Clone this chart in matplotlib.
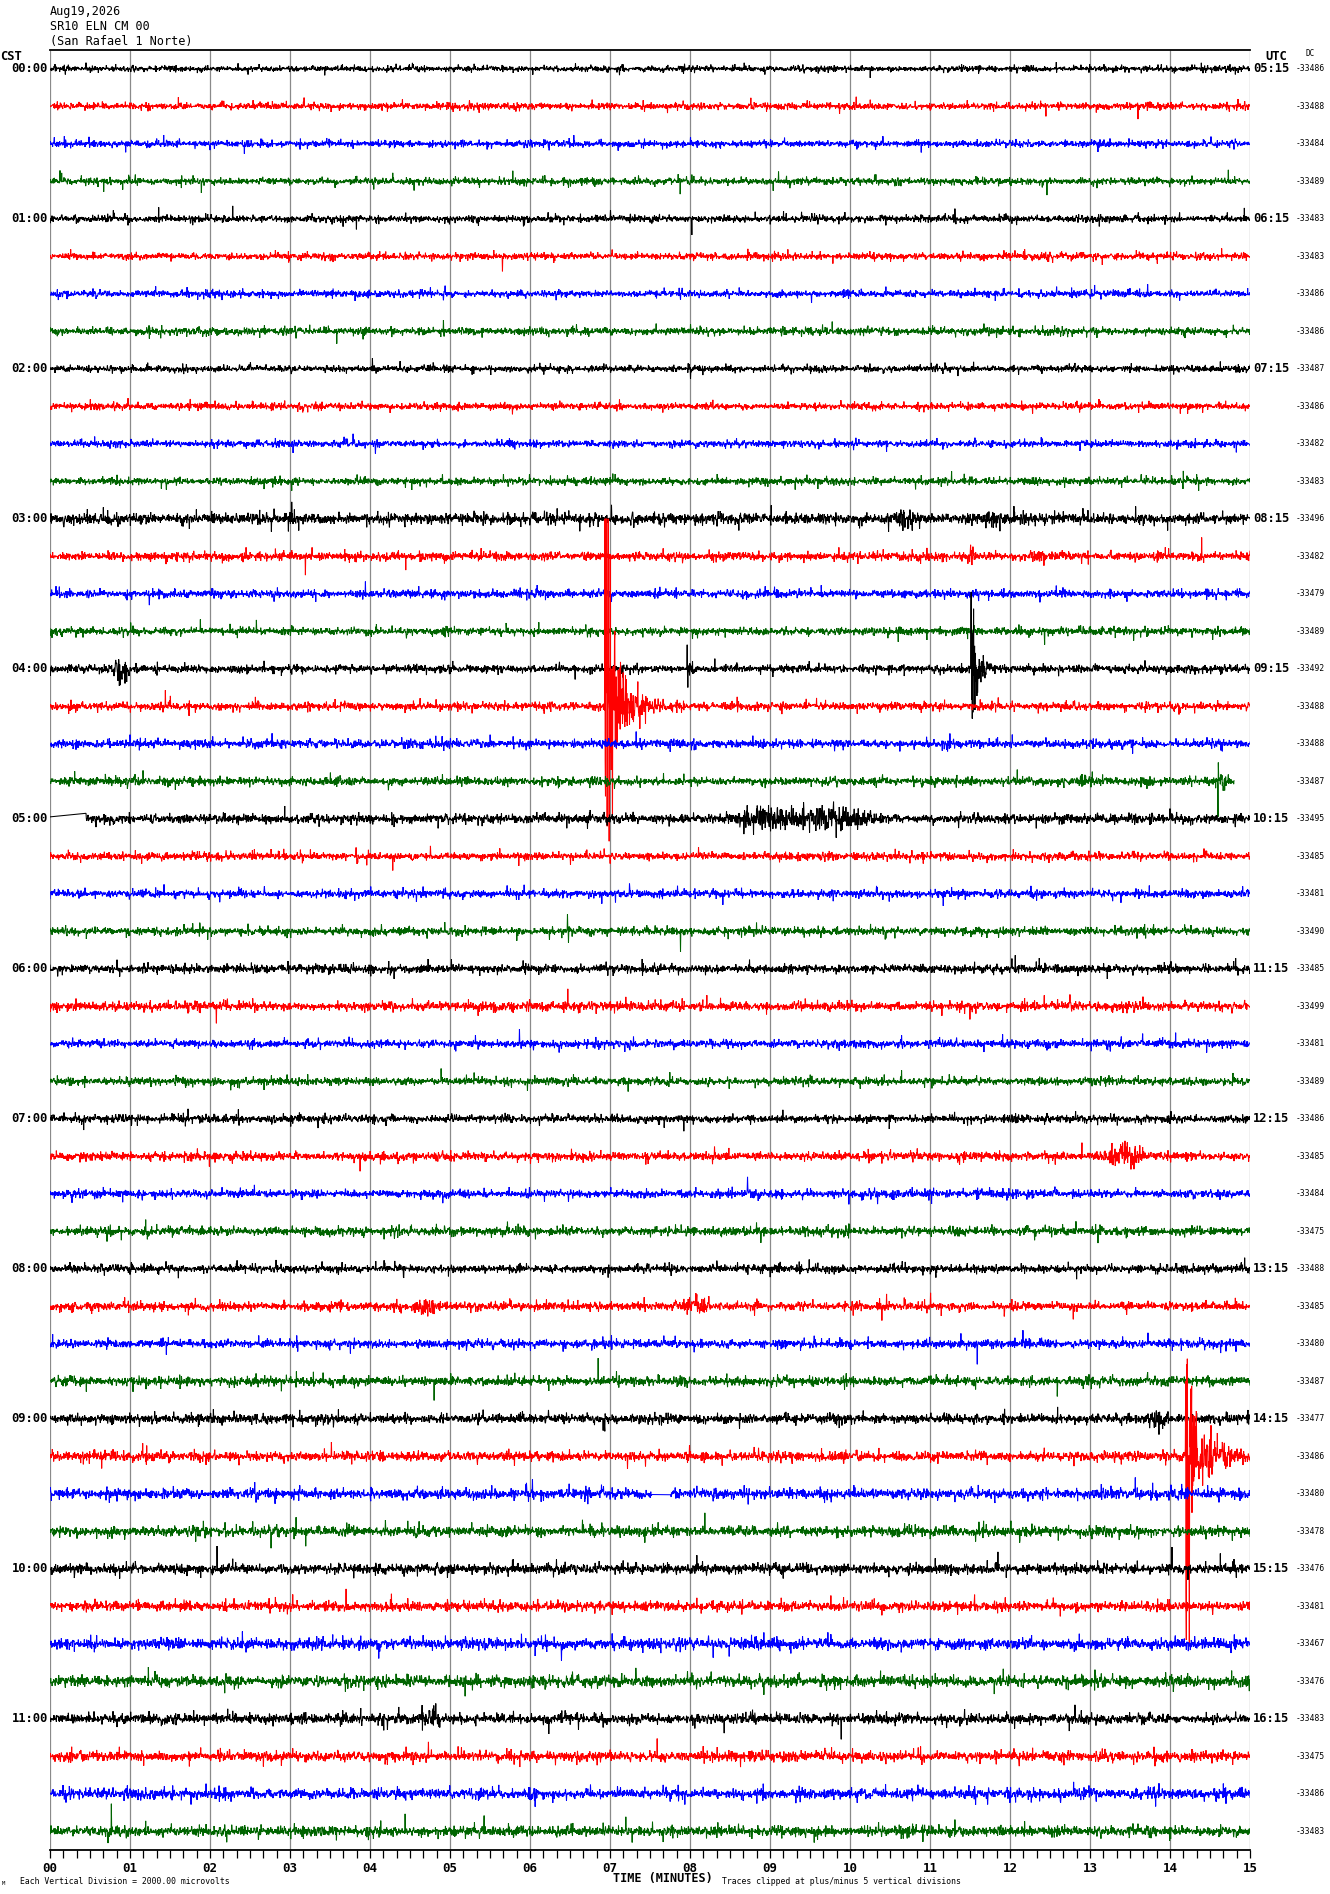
import numpy as np
import matplotlib
matplotlib.use("Agg")
import matplotlib.pyplot as plt
from matplotlib.transforms import blended_transform_factory

# ---------------- data read from the helicorder ----------------
HEADER_DATE = "Aug19,2026"
HEADER_STATION = "SR10 ELN CM 00"
HEADER_SITE = "(San Rafael 1 Norte)"

CST_LABELS = ["00:00", "01:00", "02:00", "03:00", "04:00", "05:00",
              "06:00", "07:00", "08:00", "09:00", "10:00", "11:00"]
UTC_LABELS = ["05:15", "06:15", "07:15", "08:15", "09:15", "10:15",
              "11:15", "12:15", "13:15", "14:15", "15:15", "16:15"]
MINUTE_LABELS = ["00", "01", "02", "03", "04", "05", "06", "07",
                 "08", "09", "10", "11", "12", "13", "14", "15"]

DC_VALUES = [-33486, -33488, -33484, -33489, -33483, -33483, -33486, -33486,
             -33487, -33486, -33482, -33483, -33496, -33482, -33479, -33489,
             -33492, -33488, -33488, -33487, -33495, -33485, -33481, -33490,
             -33485, -33499, -33481, -33489, -33486, -33485, -33484, -33475,
             -33488, -33485, -33480, -33487, -33477, -33486, -33480, -33478,
             -33476, -33481, -33467, -33476, -33483, -33475, -33486, -33483]

TRACE_COLORS = ["black", "#ff0000", "#0000ff", "#006400"]

# background noise level of each 15-minute line (vertical divisions)
NOISE_LEVEL = [0.036, 0.042, 0.042, 0.042, 0.042, 0.042, 0.042, 0.046,
               0.042, 0.042, 0.042, 0.046, 0.066, 0.052, 0.048, 0.048,
               0.048, 0.048, 0.052, 0.052, 0.056, 0.048, 0.048, 0.048,
               0.052, 0.056, 0.048, 0.048, 0.048, 0.052, 0.048, 0.052,
               0.048, 0.052, 0.052, 0.058, 0.058, 0.058, 0.062, 0.062,
               0.062, 0.058, 0.068, 0.068, 0.062, 0.062, 0.062, 0.062]

# signals: line, kind, start (min), end (min), amplitude (div), decay (min)
EV_TRACE = [12, 12, 12, 13, 13, 15, 16, 16, 16, 16, 16,
            17, 17, 19, 19, 19, 20, 20, 23, 29, 30, 31, 32,
            33, 33, 36, 37, 37, 38, 44, 46]
EV_KIND = ["quake", "burst", "burst", "burst", "burst", "burst", "burst", "burst", "quake", "quake", "quake",
           "quake", "quake", "burst", "burst", "burst", "burst", "burst", "burst", "burst", "quake", "burst", "burst",
           "burst", "burst", "burst", "quake", "quake", "burst", "burst", "burst"]
EV_START = [3.00, 10.35, 11.60, 11.40, 12.15, 4.00, 0.72, 2.35, 7.96, 11.51, 11.51,
            6.93, 6.93, 12.80, 13.60, 14.50, 8.35, 8.90, 9.55, 12.95, 8.72, 1.10, 3.75,
            4.50, 7.75, 13.55, 14.19, 14.19, 14.05, 4.55, 5.90]
EV_END = [3.10, 11.05, 12.00, 11.65, 12.55, 4.15, 1.06, 2.50, 8.10, 11.95, 11.95,
          7.90, 7.90, 13.00, 13.85, 14.80, 9.55, 10.75, 9.75, 13.95, 8.85, 1.30, 3.95,
          4.90, 8.40, 14.10, 15.00, 15.00, 14.25, 5.00, 6.15]
EV_AMP = [0.12, 0.14, 0.12, 0.10, 0.10, 0.08, 0.22, 0.08, 0.22, 0.60, 0.22,
          1.80, 0.45, 0.08, 0.08, 0.12, 0.17, 0.17, 0.07, 0.16, 0.15, 0.08, 0.07,
          0.14, 0.12, 0.10, 1.10, 0.38, 0.12, 0.14, 0.08]
EV_TAU = [0.04, 0, 0, 0, 0, 0, 0, 0, 0.05, 0.08, 0.15,
          0.12, 0.35, 0, 0, 0, 0, 0, 0, 0, 0.05, 0, 0,
          0, 0, 0, 0.12, 0.40, 0, 0, 0]

# single large excursions: line, time (min), value (div, + is up)
SPIKE_TRACE = [12, 16, 16, 16, 16, 16, 16,
               17, 17, 17, 17, 17, 17, 17, 17, 17,
               19, 19, 23, 23, 23, 30, 37, 37, 37, 37, 37, 37, 40, 43]
SPIKE_TIME = [3.02, 7.965, 7.975, 11.515, 11.53, 11.545, 11.56,
              6.935, 6.945, 6.955, 6.965, 6.975, 6.99, 7.00, 7.03, 7.06,
              14.60, 14.605, 6.47, 6.48, 7.88, 8.72, 14.195, 14.205, 14.215, 14.225, 14.24, 14.26, 11.85, 5.19]
SPIKE_VALUE = [0.45, 0.64, -0.5, 2.05, -1.33, 1.6, -1.1,
               5.8, -2.4, 5.8, -3.2, 5.8, -3.6, 4.0, -3.0, 2.0,
               -0.95, 0.5, 0.45, -0.3, -0.55, 0.45, 2.0, -4.9, 2.6, -3.0, -5.5, 1.8, 0.45, -0.4]

# data gaps drawn as straight lines: line, start, end (min)
GAP_TRACE = [20, 38]
GAP_START = [0.0, 7.53]
GAP_END = [0.45, 7.76]
# last recorded minute of a line
TRACE_END = {19: 14.80}

CLIP = 5.0
N_SAMPLES = 3600

# ---------------- figure ----------------
W, H = 1330, 1894
fig = plt.figure(figsize=(W / 100, H / 100), dpi=100)
ax_left, ax_right, ax_top, ax_bot = 50, 1250, 50, 1850
ax = fig.add_axes([ax_left / W, 1 - ax_bot / H, (ax_right - ax_left) / W, (ax_bot - ax_top) / H])
n_tr = len(DC_VALUES)
ax.set_xlim(0, 15)
ax.set_ylim(n_tr - 0.5, -0.5)

# texture of the seismic noise (fixed seed); levels/events above come from the picture
rng = np.random.default_rng(1908)
t = np.linspace(0, 15, N_SAMPLES)
for i in range(n_tr):
    y = NOISE_LEVEL[i] * rng.standard_t(6, N_SAMPLES) / 1.15
    env = np.zeros_like(t)
    for k in range(len(EV_TRACE)):
        if EV_TRACE[k] != i:
            continue
        t0, t1, a = EV_START[k], EV_END[k], EV_AMP[k]
        m = (t >= t0) & (t <= t1)
        if EV_KIND[k] == "quake":
            env[m] += a * np.exp(-(t[m] - t0) / EV_TAU[k])
        else:
            env[m] += a * np.sin(np.pi * (t[m] - t0) / (t1 - t0)) ** 2
    y = y + env * rng.standard_normal(N_SAMPLES)
    for k in range(len(SPIKE_TRACE)):
        if SPIKE_TRACE[k] == i:
            y[np.argmin(np.abs(t - SPIKE_TIME[k]))] = SPIKE_VALUE[k]
    for k in range(len(GAP_TRACE)):
        if GAP_TRACE[k] == i:
            m = (t >= GAP_START[k]) & (t < GAP_END[k])
            if GAP_START[k] <= 0:
                y[0] = 0.05
                m[0] = False
            y[m] = np.interp(t[m], t[~m], y[~m])
    y = np.clip(y, -CLIP, CLIP)
    if i in TRACE_END:
        y[t > TRACE_END[i]] = np.nan
    ax.plot(t, i - y, color=TRACE_COLORS[i % 4], lw=0.75, zorder=3, solid_joinstyle="miter")

# minute grid
ax.vlines(np.arange(0, 16), -0.5, n_tr - 0.5, colors="#8a8a8a", lw=0.9, zorder=1)

for s in ["left", "right"]:
    ax.spines[s].set_visible(False)
ax.spines["top"].set_linewidth(1.3)
ax.spines["bottom"].set_linewidth(1.3)
ax.set_yticks([])
ax.set_xticks(np.arange(16))
ax.set_xticklabels(MINUTE_LABELS, fontfamily="DejaVu Sans Mono", fontweight="bold", fontsize=9)
ax.set_xticks(np.arange(0, 15.01, 1 / 6), minor=True)
ax.tick_params(axis="x", which="both", direction="out", length=5.8, width=0.9, pad=2.5)

mono = "DejaVu Sans Mono"
tr_left = blended_transform_factory(fig.transFigure, ax.transData)
for h in range(len(CST_LABELS)):
    yi = 4 * h
    ax.text(48 / W, yi, CST_LABELS[h], transform=tr_left, ha="right", va="center",
            fontfamily=mono, fontweight="bold", fontsize=8.7)
    ax.text(1253 / W, yi, UTC_LABELS[h], transform=tr_left, ha="left", va="center",
            fontfamily=mono, fontweight="bold", fontsize=8.7)
for i, dc in enumerate(DC_VALUES):
    ax.text(1296 / W, i, str(dc), transform=tr_left, ha="left", va="center",
            fontfamily=mono, fontsize=5.8)

def ftext(x, y, s, **kw):
    fig.text(x / W, 1 - y / H, s, fontfamily=mono, **kw)

ftext(50, 12, HEADER_DATE, fontsize=8.5, va="center")
ftext(50, 26, HEADER_STATION, fontsize=8.5, va="center")
ftext(50, 41, HEADER_SITE, fontsize=8.5, va="center")
ftext(0, 57, "CST", fontsize=8.7, fontweight="bold", va="center")
ftext(1265, 57, "UTC", fontsize=8.7, fontweight="bold", va="center")
ftext(1310, 54, "DC", fontsize=5.5, va="center", ha="center")
ftext(20, 1881, "Each Vertical Division = 2000.00 microvolts", fontsize=5.9, va="center")
ftext(663, 1878, "TIME (MINUTES)", fontsize=8.5, fontweight="bold", va="center", ha="center")
ftext(722, 1881, "Traces clipped at plus/minus 5 vertical divisions", fontsize=5.9, va="center")
ftext(2, 1883, "M", fontsize=4, va="center")

fig.savefig("out.png", dpi=100)
